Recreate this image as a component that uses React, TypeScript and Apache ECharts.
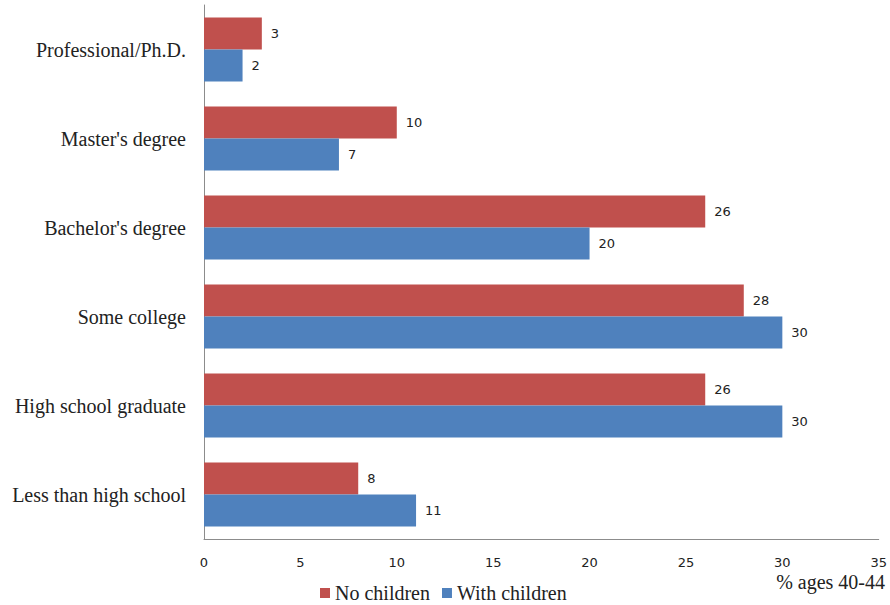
import React, { useEffect, useRef } from "react";
import * as echarts from "echarts";

// Education levels, listed top to bottom
const categories = [
  "Professional/Ph.D.",
  "Master's degree",
  "Bachelor's degree",
  "Some college",
  "High school graduate",
  "Less than high school",
];
const noChildren = [3, 10, 26, 28, 26, 8];
const withChildren = [2, 7, 20, 30, 30, 11];
const seriesNames = ["No children", "With children"];
const xTicks = { min: 0, max: 35, interval: 5 };
const axisTitle = "% ages 40-44";

const RED = "#C0504D";
const BLUE = "#4F81BD";
const SERIF = "Liberation Serif";
const SANS = "DejaVu Sans";

export default function App() {
  const ref = useRef<HTMLDivElement>(null);

  useEffect(() => {
    if (!ref.current) return;
    const chart = echarts.init(ref.current, null, { renderer: "svg" });
    const label = {
      show: true,
      position: "right" as const,
      distance: 9,
      fontFamily: SANS,
      fontSize: 13,
      color: "#222",
    };
    const legendText = { fontFamily: SERIF, fontSize: 20, lineHeight: 22, color: "#222" };
    chart.setOption({
      animation: false,
      backgroundColor: "#fff",
      textStyle: { fontFamily: SERIF },
      grid: { left: 204, right: 10, top: 5, bottom: 66, containLabel: false },
      legend: {
        top: 582,
        left: 320,
        padding: 0,
        itemWidth: 10,
        itemHeight: 10,
        itemGap: 12,
        icon: "rect",
        textStyle: legendText,
        data: seriesNames.map((name) => ({ name, textStyle: legendText })),
      },
      xAxis: {
        type: "value",
        min: xTicks.min,
        max: xTicks.max,
        interval: xTicks.interval,
        splitLine: { show: false },
        axisLine: { show: true, lineStyle: { color: "#8c8c8c" } },
        axisTick: { show: false },
        axisLabel: { margin: 17, fontFamily: SANS, fontSize: 13, color: "#222" },
      },
      yAxis: {
        type: "category",
        inverse: true,
        data: categories,
        axisLine: { show: true, lineStyle: { color: "#8c8c8c" } },
        axisTick: { show: false },
        axisLabel: { margin: 18, fontFamily: SERIF, fontSize: 20, color: "#222" },
      },
      graphic: [
        {
          type: "text",
          right: 5,
          top: 572,
          style: { text: axisTitle, fontFamily: SERIF, fontSize: 20, fill: "#222" },
        },
      ],
      series: [
        {
          name: seriesNames[0],
          type: "bar",
          data: noChildren,
          itemStyle: { color: RED },
          barGap: "0%",
          barCategoryGap: "28%",
          label,
        },
        {
          name: seriesNames[1],
          type: "bar",
          data: withChildren,
          itemStyle: { color: BLUE },
          barGap: "0%",
          barCategoryGap: "28%",
          label,
        },
      ],
    });
    return () => chart.dispose();
  }, []);

  return (
    <div
      ref={ref}
      style={{ position: "fixed", left: 0, top: 0, width: 890, height: 605 }}
    />
  );
}
